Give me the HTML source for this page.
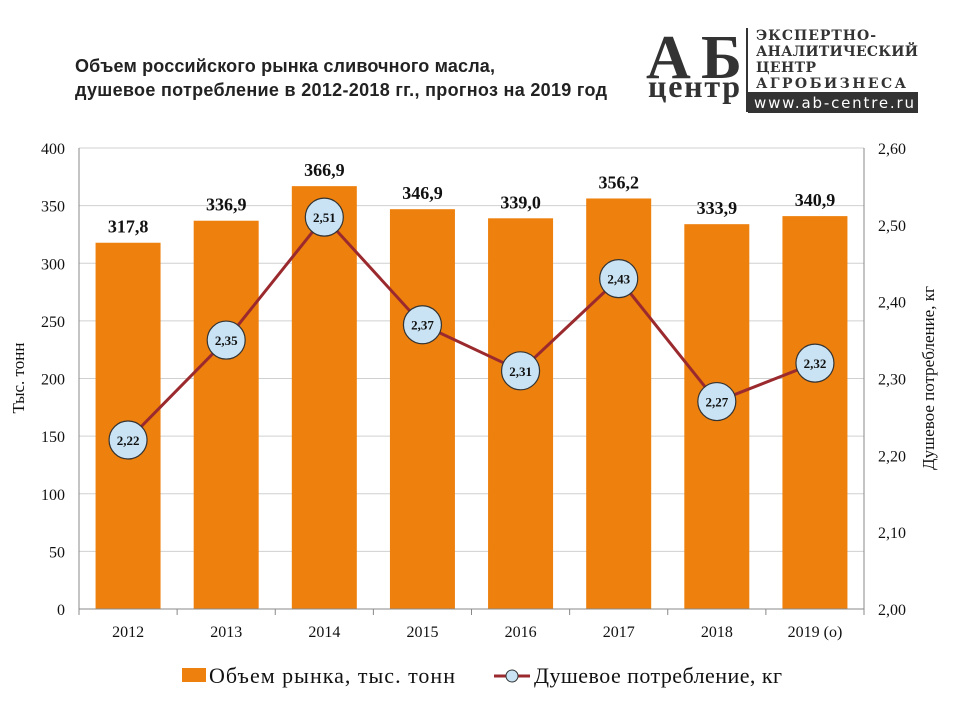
<!DOCTYPE html>
<html><head><meta charset="utf-8"><style>
body{margin:0;width:960px;height:720px;background:#fff;overflow:hidden}
svg{display:block}
</style></head><body>
<svg id="chart" width="960" height="720" font-family="'Liberation Serif',serif">
<text x="75" y="72" textLength="420" font-family="'Liberation Sans',sans-serif" font-weight="bold" font-size="18" fill="#222">Объем российского рынка сливочного масла,</text>
<text x="75" y="96" textLength="532" font-family="'Liberation Sans',sans-serif" font-weight="bold" font-size="18" fill="#222">душевое потребление в 2012-2018 гг., прогноз на 2019 год</text>
<g>
<text x="646" y="78" textLength="96" font-family="'Liberation Serif',serif" font-weight="bold" font-size="62" fill="#333">АБ</text>
<text x="648" y="97" textLength="92" font-family="'Liberation Serif',serif" font-weight="bold" font-size="32" fill="#333">центр</text>
<rect x="746" y="28" width="2" height="84" fill="#333"/>
<text x="756" y="40" textLength="120" font-family="'DejaVu Serif',serif" font-weight="bold" font-size="14" fill="#333">ЭКСПЕРТНО-</text>
<text x="756" y="56" textLength="162" font-family="'DejaVu Serif',serif" font-weight="bold" font-size="14" fill="#333">АНАЛИТИЧЕСКИЙ</text>
<text x="756" y="72" textLength="60" font-family="'DejaVu Serif',serif" font-weight="bold" font-size="14" fill="#333">ЦЕНТР</text>
<text x="756" y="88" textLength="150" font-family="'DejaVu Serif',serif" font-weight="bold" font-size="14" fill="#333">АГРОБИЗНЕСА</text>
<rect x="748" y="92" width="170" height="21" fill="#333"/>
<text x="754" y="108" textLength="160" font-family="'DejaVu Sans',sans-serif" font-size="15" fill="#fff">www.ab-centre.ru</text>
</g>
<g id="grid"></g><g id="bars"></g><g id="axes"></g><g id="line"></g>
<text transform="translate(24,378) rotate(-90)" text-anchor="middle" font-size="17" fill="#111">Тыс. тонн</text>
<text transform="translate(934,378) rotate(-90)" text-anchor="middle" font-size="17" fill="#111">Душевое потребление, кг</text>
<g>
<rect x="182" y="668" width="24" height="14" fill="#EE800D"/>
<text x="209" y="683" textLength="246" font-size="22" fill="#111">Объем рынка, тыс. тонн</text>
<line x1="494" y1="676" x2="530" y2="676" stroke="#9A2A2E" stroke-width="3"/>
<circle cx="512" cy="676" r="6" fill="#C9E3F4" stroke="#333"/>
<text x="534" y="683" textLength="248" font-size="22" fill="#111">Душевое потребление, кг</text>
</g>
</svg>
<script>
const categories=["2012","2013","2014","2015","2016","2017","2018","2019 (о)"];
const volumes=[317.8,336.9,366.9,346.9,339.0,356.2,333.9,340.9];
const perCapita=[2.22,2.35,2.51,2.37,2.31,2.43,2.27,2.32];
const leftTicks=[0,50,100,150,200,250,300,350,400];
const rightTicks=[2.0,2.1,2.2,2.3,2.4,2.5,2.6];
const NS="http://www.w3.org/2000/svg";
const L=79,R=864,T=148,B=609;
const bw=(R-L)/categories.length;
const yL=v=>B-(v/400)*(B-T);
const yR=v=>B-((v-2)/0.6)*(B-T);
const xC=i=>L+bw*(i+0.5);
const fmt=(v,d)=>v.toFixed(d).replace('.',',');
function mk(p,tag,a){const e=document.createElementNS(NS,tag);for(const k in a)e.setAttribute(k,a[k]);document.getElementById(p).appendChild(e);return e;}
leftTicks.forEach(t=>{
 if(t>0){const g=mk('grid','line',{x1:L,x2:R,y1:yL(t),y2:yL(t),stroke:'#d0d0d0'});
 
 }
 const tx=mk('axes','text',{x:L-14,y:yL(t)+6,'text-anchor':'end','font-size':16,fill:'#111'});tx.textContent=t;
 
 
});
rightTicks.forEach(t=>{
 const tx=mk('axes','text',{x:R+14,y:yR(t)+6,'font-size':16,fill:'#111'});tx.textContent=fmt(t,2);
 
 
});
mk('axes','line',{x1:L,x2:L,y1:T,y2:B,stroke:'#888'});
mk('axes','line',{x1:R,x2:R,y1:T,y2:B,stroke:'#888'});
mk('axes','line',{x1:L,x2:R,y1:B,y2:B,stroke:'#888'});
categories.forEach((c,i)=>{
 const x0=L+bw*i;
 mk('axes','line',{x1:x0,x2:x0,y1:B,y2:B+6,stroke:'#888'});
 const tx=mk('axes','text',{x:xC(i),y:B+28,'text-anchor':'middle','font-size':16,fill:'#111'});tx.textContent=c;
 
 
 const b=mk('bars','rect',{x:xC(i)-32.5,y:yL(volumes[i]),width:65,height:B-yL(volumes[i]),fill:'#EE800D'});
 
 
 const lb=mk('bars','text',{x:xC(i),y:yL(volumes[i])-10,'text-anchor':'middle','font-size':18,'font-weight':'bold',fill:'#111'});lb.textContent=fmt(volumes[i],1);
 
 
});
mk('axes','line',{x1:R,x2:R,y1:B,y2:B+6,stroke:'#888'});
const pl=mk('line','polyline',{points:perCapita.map((v,i)=>xC(i)+','+yR(v)).join(' '),fill:'none',stroke:'#9A2A2E','stroke-width':3});


perCapita.forEach((v,i)=>{
 const c=mk('line','circle',{cx:xC(i),cy:yR(v),r:19,fill:'#C9E3F4',stroke:'#333','stroke-width':1.2});
 
 
 const t=mk('line','text',{x:xC(i),y:yR(v)+5,'text-anchor':'middle','font-size':13,'font-weight':'bold',fill:'#111'});t.textContent=fmt(v,2);
 
 
});
</script>
</body></html>
